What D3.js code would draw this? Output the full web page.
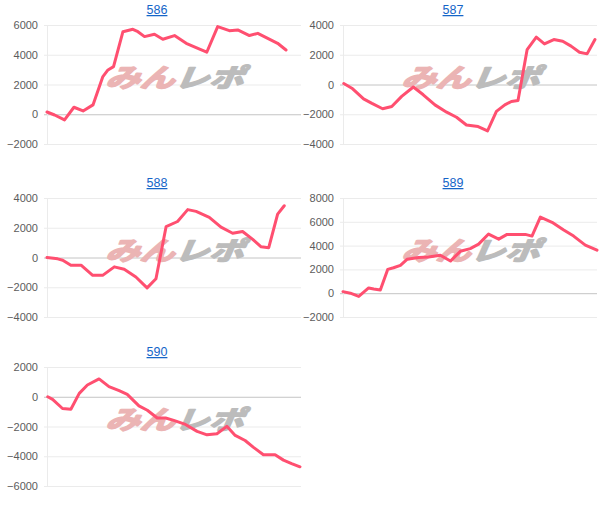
<!DOCTYPE html>
<html>
<head>
<meta charset="utf-8">
<script src="https://cdn.jsdelivr.net/npm/d3@7"></script>
<style>
    body { margin: 0; background: #fff; }
    svg { display: block; }
    .tick-label { font-family: 'Liberation Sans', Arial, sans-serif; font-size: 11px; fill: #5c5c5c; }
    .title { font-family: 'Liberation Sans', Arial, sans-serif; font-size: 12.5px; fill: #1565c8; text-decoration: underline; }
</style>
</head>
<body>
<div id="chart"></div>
<script>
// machine numbers shown above each small chart
const machines = ['586', '587', '588', '589', '590'];

// game count (x) and coin difference (y)
const games586 = [0, 300, 690, 1060, 1420, 1810, 2200, 2400, 2620, 2990, 3380, 3580, 3840, 4230, 4560, 5020, 5480, 5870, 6290, 6720, 7180, 7510, 7970, 8300, 8690, 9080, 9410];
const diff586 = [150, -50, -380, 470, 220, 630, 2530, 2980, 3200, 5550, 5710, 5550, 5220, 5380, 5040, 5290, 4770, 4480, 4170, 5890, 5620, 5670, 5290, 5440, 5100, 4770, 4320];

const games587 = [30, 350, 810, 1140, 1560, 1920, 2310, 2770, 3160, 3620, 4080, 4470, 4860, 5320, 5690, 6040, 6370, 6630, 6890, 7250, 7610, 7930, 8300, 8650, 8980, 9310, 9610, 9920];
const diff587 = [70, -250, -970, -1270, -1630, -1480, -800, -170, -690, -1370, -1860, -2200, -2720, -2830, -3120, -1810, -1370, -1140, -1070, 2350, 3180, 2730, 3020, 2910, 2580, 2170, 2060, 3020];

const games588 = [0, 420, 620, 940, 1340, 1800, 2190, 2650, 3040, 3500, 3940, 4290, 4690, 5140, 5540, 5870, 6390, 6850, 7310, 7700, 8100, 8430, 8730, 9080, 9340];
const diff588 = [0, -90, -180, -520, -520, -1200, -1200, -630, -790, -1310, -2040, -1430, 2080, 2420, 3220, 3100, 2700, 2040, 1630, 1750, 1220, 720, 660, 2920, 3480];

const games589 = [0, 290, 620, 1010, 1210, 1470, 1760, 1990, 2260, 2520, 2980, 3370, 3830, 4230, 4620, 5010, 5340, 5730, 6130, 6460, 6850, 7180, 7440, 7770, 8230, 8690, 9080, 9540, 10000];
const diff589 = [130, 0, -270, 440, 350, 270, 2000, 2140, 2340, 2850, 3000, 3050, 3190, 2700, 3520, 3750, 4120, 4970, 4540, 4940, 4940, 4940, 4800, 6390, 5960, 5310, 4800, 4040, 3610];

const games590 = [30, 220, 610, 940, 1270, 1590, 2050, 2440, 2840, 3160, 3620, 3950, 4340, 4670, 4990, 5450, 5910, 6300, 6690, 7080, 7410, 7800, 8130, 8520, 8980, 9310, 9630, 9960];
const diff590 = [0, -180, -790, -840, 230, 790, 1200, 680, 410, 160, -610, -910, -1430, -1430, -1590, -1860, -2330, -2560, -2490, -1990, -2600, -2940, -3400, -3900, -3900, -4260, -4490, -4710];

// y axis tick labels per chart
const ticks586 = [-2000, 0, 2000, 4000, 6000];
const ticks587 = [-4000, -2000, 0, 2000, 4000];
const ticks588 = [-4000, -2000, 0, 2000, 4000];
const ticks589 = [-2000, 0, 2000, 4000, 6000, 8000];
const ticks590 = [-6000, -4000, -2000, 0, 2000];

const gameMax = 10000;

document.addEventListener('DOMContentLoaded', () => {
    const width = 609;
    const height = 514;

    const panels = [
        { name: machines[0], games: games586, diff: diff586, ticks: ticks586 },
        { name: machines[1], games: games587, diff: diff587, ticks: ticks587 },
        { name: machines[2], games: games588, diff: diff588, ticks: ticks588 },
        { name: machines[3], games: games589, diff: diff589, ticks: ticks589 },
        { name: machines[4], games: games590, diff: diff590, ticks: ticks590 }
    ];

    const rowTop = [-1, 172, 341];
    const plotW = 254;
    const plotH = 119;

    const svg = d3.select('#chart').append('svg')
        .attr('width', width)
        .attr('height', height);

    panels.forEach((p, i) => {
        const x0 = (i % 2) * 296;
        const y0 = rowTop[Math.floor(i / 2)];
        drawPanel(p, x0, y0);
    });

    function drawPanel(p, x0, y0) {
        const left = x0 + 47;
        const top = y0 + 26;

        const x = d3.scaleLinear()
            .domain([0, gameMax])
            .range([left, left + plotW]);

        const y = d3.scaleLinear()
            .domain(d3.extent(p.ticks))
            .range([top + plotH, top]);

        const g = svg.append('g');

        // title
        g.append('text')
            .attr('class', 'title')
            .attr('x', x0 + 157)
            .attr('y', y0 + 15)
            .attr('text-anchor', 'middle')
            .text(p.name);

        // grid + y axis
        const axis = d3.axisLeft(y)
            .tickValues(p.ticks)
            .tickSize(-(plotW + 3))
            .tickPadding(6)
            .tickFormat(d3.format('d'));

        const ax = g.append('g')
            .attr('transform', `translate(${left - 3},0)`)
            .call(axis);

        ax.select('.domain').remove();
        ax.selectAll('.tick line')
            .attr('stroke', d => d === 0 ? '#c4c4c4' : '#ebebeb')
            .attr('stroke-width', 1);
        ax.selectAll('.tick text')
            .attr('class', 'tick-label')
            .attr('fill', null)
            .attr('font-size', null)
            .attr('font-family', null);

        g.append('line')
            .attr('x1', left + 0.5)
            .attr('x2', left + 0.5)
            .attr('y1', top)
            .attr('y2', top + plotH)
            .attr('stroke', '#ebebeb');

        // watermark
        const wm = g.append('text')
            .attr('transform', `translate(${left + plotW / 2},${top + plotH * 0.52}) scale(1.08,0.8) skewX(-18)`)
            .attr('text-anchor', 'middle')
            .attr('font-family', "'Noto Sans CJK JP', sans-serif")
            .attr('font-weight', 'bold')
            .attr('font-size', 32)
            .attr('stroke-width', 2.2)
            .attr('stroke-linejoin', 'round');
        wm.append('tspan').attr('fill', '#ebb4b4').attr('stroke', '#ebb4b4').text('みん');
        wm.append('tspan').attr('fill', '#bcbcbc').attr('stroke', '#bcbcbc').text('レポ');

        // data line
        const pts = p.games.map((gm, k) => [gm, p.diff[k]]);
        const line = d3.line()
            .x(d => x(d[0]))
            .y(d => y(d[1]));

        g.append('path')
            .datum(pts)
            .attr('fill', 'none')
            .attr('stroke', '#ff4f70')
            .attr('stroke-width', 3)
            .attr('stroke-linejoin', 'round')
            .attr('stroke-linecap', 'round')
            .attr('d', line);
    }
});
</script>
</body>
</html>
